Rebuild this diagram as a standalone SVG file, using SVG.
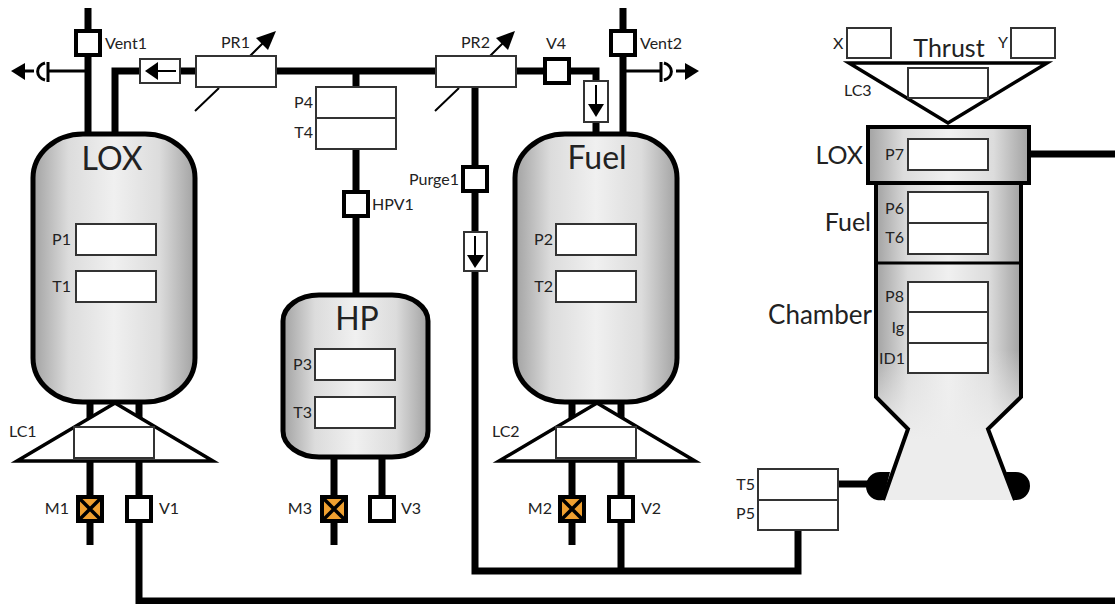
<svg xmlns="http://www.w3.org/2000/svg" width="1115" height="604" viewBox="0 0 1115 604">
<defs>
<linearGradient id="g" x1="0" x2="1" y1="0" y2="0"><stop offset="0" stop-color="#a2a2a2"/><stop offset="0.22" stop-color="#dcdcdc"/><stop offset="0.5" stop-color="#f0f0f0"/><stop offset="0.78" stop-color="#dcdcdc"/><stop offset="1" stop-color="#a2a2a2"/></linearGradient>
<linearGradient id="n" gradientUnits="userSpaceOnUse" x1="0" x2="0" y1="350" y2="440"><stop offset="0" stop-color="#ededed" stop-opacity="0"/><stop offset="1" stop-color="#ededed"/></linearGradient>
</defs>
<style>
text{font-family:Lato,"Open Sans","Liberation Sans",sans-serif;fill:#222;font-size:16px}
.big{font-size:32px}
.mid{font-size:25px}
.m{text-anchor:middle}
.e{text-anchor:end}
.pipe{fill:none;stroke:#000;stroke-width:7}
.thin{fill:none;stroke:#000;stroke-width:3}
.hair{fill:none;stroke:#000;stroke-width:2}
.tank{fill:url(#g);stroke:#000;stroke-width:5}
.box{fill:#fff;stroke:#333;stroke-width:2}
.valve{fill:#fff;stroke:#000;stroke-width:4}
.mv{fill:#f0a030;stroke:#000;stroke-width:4}
.cross{stroke:#000;stroke-width:3.5}
.tri{fill:#fff;stroke:#000;stroke-width:3.5}
</style>
<g id="connectors">
<path class="pipe" d="M88 8V134M115 134V71H140M180 71H196M276 71H436M356 71V87M356 149V295M516 71H596V81M596 122V134M623 8V134M475 87V571H798V530M621 402V571M139 402V601H1115M838 484H870M1029 154H1115"/>
<path class="pipe" d="M90 402V545M572 402V545M334 457V545M382 457V500"/>
<path class="thin" d="M88 71H48M623 71H661"/>
<path class="thin" d="M48 62V82M45 63A11 9 0 0 0 45 80M24 71H34"/>
<path class="thin" d="M661 62V82M664 63A11 9 0 0 1 664 80M676 71H686"/>
<path d="M11 71L25 63V80Z"/>
<path d="M699 71L685 63V80Z"/>
<path class="hair" d="M250 56L268 38M490 56L508 38"/>
<path d="M276 31L268 50L256 38Z"/>
<path d="M515 31L508 50L496 38Z"/>
<path class="hair" d="M195 111L219 88M435 111L459 88"/>
</g>
<g id="tank-lox"><rect class="tank" x="33" y="134" width="162" height="268" rx="50" ry="44"/><text class="big m" x="112" y="170">LOX</text>
<rect class="box" x="76" y="224" width="80" height="31"/><rect class="box" x="76" y="271" width="80" height="31"/>
<text class="e" x="71" y="245">P1</text><text class="e" x="71" y="292">T1</text></g>
<g id="tank-fuel"><rect class="tank" x="515" y="134" width="162" height="268" rx="50" ry="44"/><text class="big m" x="597" y="169">Fuel</text>
<rect class="box" x="556" y="224" width="80" height="31"/><rect class="box" x="556" y="271" width="80" height="31"/>
<text class="e" x="553" y="245">P2</text><text class="e" x="553" y="292">T2</text></g>
<g id="tank-hp"><rect class="tank" x="283" y="295" width="145" height="162" rx="36" ry="26"/><text class="big m" x="357" y="330">HP</text>
<rect class="box" x="315" y="349" width="80" height="31"/><rect class="box" x="315" y="397" width="80" height="31"/>
<text class="e" x="312" y="370">P3</text><text class="e" x="312" y="418">T3</text></g>
<g id="lc1"><path class="tri" d="M115 403L213 461H17Z"/><rect class="box" x="74" y="427" width="80" height="31"/><text x="9" y="437">LC1</text></g>
<g id="lc2"><path class="tri" d="M597 403L695 461H499Z"/><rect class="box" x="556" y="427" width="80" height="31"/><text x="492" y="437">LC2</text></g>
<g id="vent1"><rect class="valve" x="76" y="31" width="24" height="24"/><text x="105" y="49">Vent1</text></g>
<g id="vent2"><rect class="valve" x="611" y="31" width="24" height="24"/><text x="640" y="49">Vent2</text></g>
<g id="pr1"><rect class="box" x="196" y="56" width="80" height="31"/><text x="221" y="48">PR1</text></g>
<g id="pr2"><rect class="box" x="436" y="56" width="80" height="31"/><text x="461" y="48">PR2</text></g>
<g id="check1"><rect class="box" x="140" y="59" width="40" height="24"/><path class="hair" d="M176 71H155"/><path d="M145 71L158 62V80Z"/></g>
<g id="v4"><rect class="valve" x="545" y="59" width="24" height="24"/><text x="546" y="49">V4</text></g>
<g id="check2"><rect class="box" x="584" y="81" width="24" height="41"/><path class="hair" d="M596 85V106"/><path d="M596 117L588 104H604Z"/></g>
<g id="p4t4"><rect class="box" x="316" y="87" width="80" height="31"/><rect class="box" x="316" y="118" width="80" height="31"/><text class="e" x="313" y="108">P4</text><text class="e" x="313" y="138">T4</text></g>
<g id="hpv1"><rect class="valve" x="344" y="192" width="24" height="24"/><text x="372" y="210">HPV1</text></g>
<g id="purge1"><rect class="valve" x="463" y="167" width="24" height="24"/><text class="e" x="459" y="185">Purge1</text></g>
<g id="check3"><rect class="box" x="464" y="232" width="23" height="39"/><path class="hair" d="M475 236V257"/><path d="M475 268L467 255H484Z"/></g>
<g id="m1"><rect class="mv" x="78" y="497" width="24" height="24"/><path class="cross" d="M80 499L100 519M100 499L80 519"/><text class="e" x="69" y="514">M1</text></g>
<g id="v1"><rect class="valve" x="127" y="497" width="24" height="24"/><text x="159" y="514">V1</text></g>
<g id="m2"><rect class="mv" x="560" y="497" width="24" height="24"/><path class="cross" d="M562 499L582 519M582 499L562 519"/><text class="e" x="552" y="514">M2</text></g>
<g id="v2"><rect class="valve" x="609" y="497" width="24" height="24"/><text x="641" y="514">V2</text></g>
<g id="m3"><rect class="mv" x="322" y="497" width="24" height="24"/><path class="cross" d="M324 499L344 519M344 499L324 519"/><text class="e" x="312" y="514">M3</text></g>
<g id="v3"><rect class="valve" x="370" y="497" width="24" height="24"/><text x="401" y="514">V3</text></g>
<g id="engine">
<path d="M890 472H881A14 14 0 0 0 866 486A14 14 0 0 0 883 500Z"/>
<path d="M1006 472H1016A14 14 0 0 1 1030 486A14 14 0 0 1 1015 500Z"/>
<path d="M876 183V397L908 429L883 500H1015L988 429L1021 397V183Z" fill="url(#g)"/>
<path d="M876 350V397L908 429L883 500H1015L988 429L1021 397V350Z" fill="url(#n)"/>
<path d="M883 500L908 429L876 397V183M1015 500L988 429L1021 397V183" fill="none" stroke="#000" stroke-width="4"/>
<path d="M876 263H1021" stroke="#000" stroke-width="3"/>
<rect x="868" y="127" width="161" height="56" fill="url(#g)" stroke="#000" stroke-width="4"/>
<rect class="box" x="908" y="139" width="80" height="31"/>
<rect class="box" x="908" y="192" width="80" height="31"/><rect class="box" x="908" y="223" width="80" height="31"/>
<rect class="box" x="908" y="282" width="80" height="30"/><rect class="box" x="908" y="312" width="80" height="31"/><rect class="box" x="908" y="343" width="80" height="30"/>
<text class="e" x="904" y="160">P7</text><text class="e" x="904" y="214">P6</text><text class="e" x="904" y="243">T6</text>
<text class="e" x="904" y="302">P8</text><text class="e" x="904" y="333">Ig</text><text class="e" x="905" y="364">ID1</text>
<text class="mid e" x="863" y="164">LOX</text><text class="mid e" x="871" y="231">Fuel</text><text class="mid e" x="872" y="324" style="font-size:26px">Chamber</text>
</g>
<g id="lc3"><path class="tri" d="M849 63H1047L948 123Z"/><rect class="box" x="908" y="68" width="80" height="30"/><text x="844" y="96">LC3</text><text class="mid m" x="949" y="57">Thrust</text></g>
<g id="x"><rect class="box" x="847" y="28" width="44" height="30"/><text x="833" y="49">X</text></g>
<g id="y"><rect class="box" x="1011" y="28" width="44" height="30"/><text x="998" y="48">Y</text></g>
<g id="t5p5"><rect class="box" x="758" y="469" width="80" height="31"/><rect class="box" x="758" y="500" width="80" height="30"/><text class="e" x="755" y="490">T5</text><text class="e" x="755" y="519">P5</text></g>
</svg>
